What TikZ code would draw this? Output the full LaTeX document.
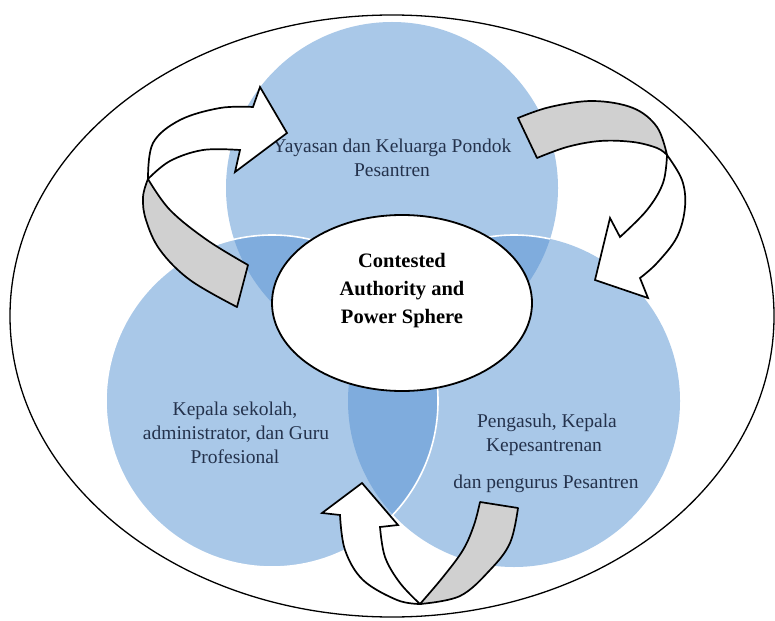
\documentclass[tikz,border=0pt]{standalone}
\usepackage{fontspec}
\setmainfont{Liberation Serif}
\definecolor{circlight}{RGB}{169,200,232}
\definecolor{circdark}{RGB}{127,172,221}
\definecolor{labeltext}{RGB}{36,50,76}
\definecolor{ribbongray}{RGB}{208,208,208}
\begin{document}
\begin{tikzpicture}[x=1pt,y=-1pt,
  lbl/.style={text=labeltext,font=\fontsize{19.5}{24}\selectfont,anchor=base,inner sep=0pt},
  ctr/.style={text=black,font=\bfseries\fontsize{20.5}{28}\selectfont,anchor=base,inner sep=0pt},
  ribbonback/.style={fill=ribbongray,draw=black,line width=1.7pt,line join=round},
  ribbonfront/.style={fill=white,draw=black,line width=1.7pt,line join=miter},
  rimline/.style={white,line width=1.6pt}]
\useasboundingbox (0,0) rectangle (775,620);
\fill[white] (0,0) rectangle (775,620);
% outer ellipse
\draw[line width=1.3pt] (392,316) ellipse [x radius=382pt, y radius=301pt];
% circles
\coordinate (cT) at (392,188);
\coordinate (cL) at (272,401);
\coordinate (cR) at (514,401);
\fill[circlight] (cT) circle (166pt);
\fill[circlight] (cR) circle (166pt);
\fill[circlight] (cL) circle (166pt);
\begin{scope}
  \clip (cT) circle (166pt);
  \fill[circdark] (cL) circle (166pt);
  \fill[circdark] (cR) circle (166pt);
\end{scope}
\begin{scope}
  \clip (cL) circle (166pt);
  \fill[circdark] (cR) circle (166pt);
\end{scope}
\begin{scope}
  \clip (cT) circle (166pt);
  \draw[rimline] (cR) circle (166pt);
\end{scope}
\draw[rimline] (cL) circle (166pt);
% circle labels
\node[lbl] (t1) at (392,153) {Yayasan dan Keluarga Pondok};
\node[lbl] (t2) at (392,177) {Pesantren};
\node[lbl] (l1) at (235,415) {Kepala sekolah,};
\node[lbl] (l2) at (236,439) {administrator, dan Guru};
\node[lbl] (l3) at (235,463) {Profesional};
\node[lbl] (r1) at (547,427) {Pengasuh, Kepala};
\node[lbl] (r2) at (544,451) {Kepesantrenan};
\node[lbl] (r3) at (546,488) {dan pengurus Pesantren};
% central ellipse
\filldraw[fill=white,draw=black,line width=1.8pt] (402,303) ellipse [x radius=130pt, y radius=88pt];
\node[ctr] (c1) at (402,267) {Contested};
\node[ctr] (c2) at (402,295.5) {Authority and};
\node[ctr] (c3) at (402,323.5) {Power Sphere};
% arrow 1 (top-left)
\filldraw[ribbonback] (248,265) -- (237,307)
  -- plot[smooth,tension=0.6] coordinates {(237,307) (190,280) (160,250) (146,220) (143,197) (148,179)}
  -- plot[smooth,tension=0.6] coordinates {(148,179) (170,210) (207,240) (248,265)} -- cycle;
\filldraw[ribbonfront] (148,179)
  -- plot[smooth,tension=0.6] coordinates {(148,179) (153,143) (180,120) (220,108) (253,107)}
  -- (260,87) -- (287,133) -- (235,172) -- (240,150)
  -- plot[smooth,tension=0.6] coordinates {(240,150) (203,150) (170,161) (148,179)} -- cycle;
% arrow 2 (top-right)
\filldraw[ribbonback] (518,118) -- (537,158)
  -- plot[smooth,tension=0.6] coordinates {(537,158) (567,147) (600,141) (633,142) (657,148) (667,155)}
  -- plot[smooth,tension=0.6] coordinates {(667,155) (657,127) (633,108) (593,101) (550,107) (518,118)} -- cycle;
\filldraw[ribbonfront] (667,155)
  -- plot[smooth,tension=0.6] coordinates {(667,155) (682,180) (685,207) (677,237) (657,263) (640,278)}
  -- (648,298) -- (595,280) -- (610,218) -- (620,237)
  -- plot[smooth,tension=0.6] coordinates {(620,237) (647,210) (663,183) (667,155)} -- cycle;
% arrow 3 (bottom)
\filldraw[ribbonfront] (420,604)
  -- plot[smooth,tension=0.6] coordinates {(420,604) (397,600) (363,580) (345,550) (340,515)}
  -- (322,513) -- (362,483) -- (398,525) -- (380,527)
  -- plot[smooth,tension=0.6] coordinates {(380,527) (385,557) (400,583) (420,604)} -- cycle;
\filldraw[ribbonback] (480,502) -- (518,508)
  -- plot[smooth,tension=0.6] coordinates {(518,508) (510,543) (490,570) (460,596) (420,604)}
  -- plot[smooth,tension=0.6] coordinates {(420,604) (443,577) (463,550) (474,525) (480,502)} -- cycle;
\end{tikzpicture}
\end{document}
